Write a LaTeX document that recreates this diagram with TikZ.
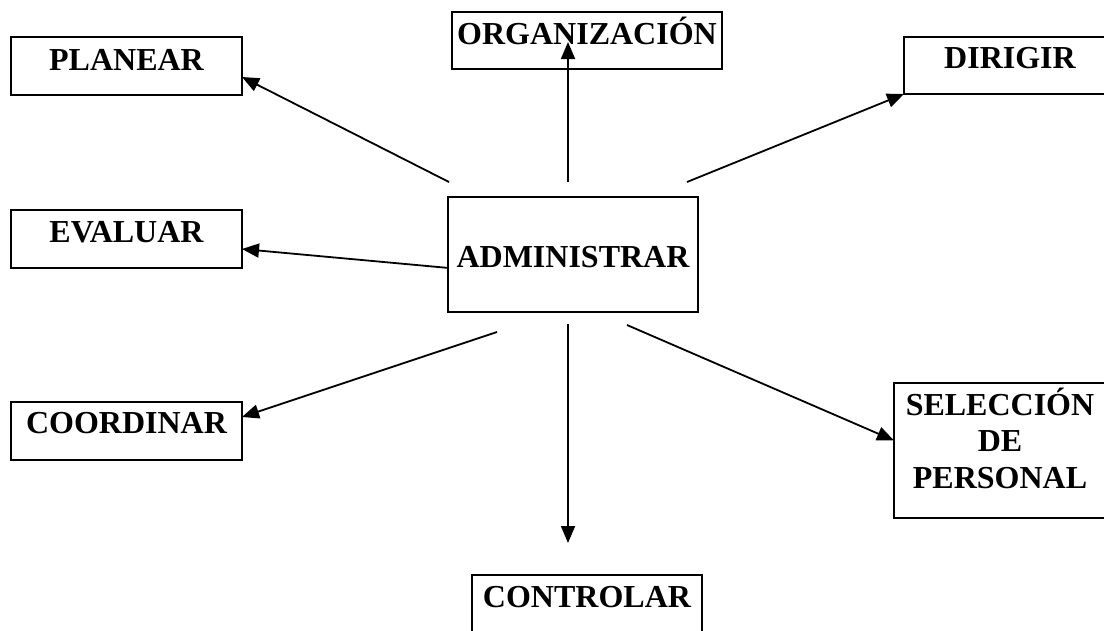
\documentclass[tikz,border=0pt]{standalone}
\usepackage{fontspec}
\setmainfont{Liberation Serif}
\usetikzlibrary{arrows.meta}
\begin{document}
\begin{tikzpicture}[x=1pt,y=-1pt,>={Triangle[length=17pt,width=14pt]},line width=1.8pt]

\tikzstyle{funcbox} = [draw,line width=1.3pt,inner sep=0,outer sep=0,anchor=north west,font=\bfseries\fontsize{32}{36.5}\selectfont]

\useasboundingbox (0,0) rectangle (1104,630);
\clip (0,0) rectangle (1104,630);

\node [funcbox,minimum width=231,minimum height=58,text height=33,text depth=25] (planear) at (11,37) {PLANEAR};
\node [funcbox,minimum width=231,minimum height=58,text height=32,text depth=26] (evaluar) at (11,210) {EVALUAR};
\node [funcbox,minimum width=231,minimum height=58,text height=31,text depth=27] (coordinar) at (11,402) {COORDINAR};

\node [funcbox,minimum width=270,minimum height=57,text height=32,text depth=25] (organizacion) at (452,12) {ORGANIZACIÓN};
\node [funcbox,minimum width=250,minimum height=115,text height=70,text depth=45] (administrar) at (448,197) {ADMINISTRAR};
\node [funcbox,minimum width=230,minimum height=60,text height=32,text depth=28] (controlar) at (472,575) {CONTROLAR};

\node [funcbox,minimum width=212,minimum height=57,text height=31,text depth=26] (dirigir) at (904,37) {DIRIGIR};
\node [funcbox,minimum width=212,minimum height=135,text height=105,text depth=30,align=center] (seleccion) at (894,383) {SELECCIÓN\\DE\\PERSONAL};

\coordinate (s1) at (449,182);
\coordinate (s2) at (449,268);
\coordinate (s3) at (497,332);
\coordinate (s4) at (568,182);
\coordinate (s5) at (687,182);
\coordinate (s6) at (627,325);
\coordinate (s7) at (568,324);
\coordinate (t4) at (568,42);
\coordinate (t7) at (568,543);

\draw (s1) edge [->] ([yshift=-11pt]planear.east);
\draw (s2) edge [->] ([yshift=-10pt]evaluar.east);
\draw (s3) edge [->] ([yshift=14pt]coordinar.east);
\draw (s4) edge [->] (t4);
\draw (s5) edge [->] (dirigir.south west);
\draw (s6) edge [->] ([yshift=10pt]seleccion.west);
\draw (s7) edge [->] (t7);
\end{tikzpicture}
\end{document}
